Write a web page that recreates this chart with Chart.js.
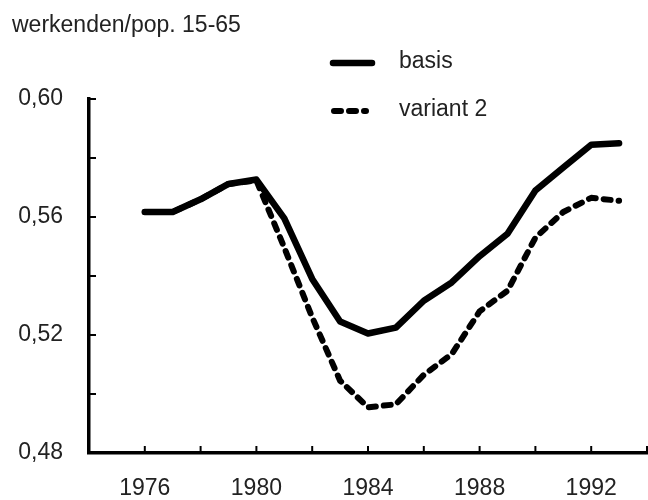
<!DOCTYPE html>
<html>
<head>
<meta charset="utf-8">
<script src="https://cdn.jsdelivr.net/npm/chart.js@4"></script>
<style>
  html, body { margin: 0; padding: 0; background: #fff; }
  #wrap { width: 648px; height: 500px; }
</style>
</head>
<body>
<div id="wrap"><canvas id="grafiek"></canvas></div>
<script>
const jaren = [1976, 1977, 1978, 1979, 1980, 1981, 1982, 1983, 1984,
               1985, 1986, 1987, 1988, 1989, 1990, 1991, 1992, 1993];
const basis = [0.5617, 0.5617, 0.5660, 0.5712, 0.5727, 0.5595, 0.5390, 0.5246, 0.5205,
               0.5225, 0.5316, 0.5378, 0.5467, 0.5543, 0.5690, 0.5768, 0.5845, 0.5850];
const variant2 = [0.5617, 0.5617, 0.5660, 0.5712, 0.5724, 0.5496, 0.5260, 0.5045, 0.4955,
                  0.4965, 0.5065, 0.5135, 0.5280, 0.5350, 0.5530, 0.5617, 0.5665, 0.5655];
const reeksNamen = ['basis', 'variant 2'];
const titel = 'werkenden/pop. 15-65';

const font = "'Liberation Sans', Arial, sans-serif";
const dash = [7, 8];

const punten = (waarden) => jaren.map((j, i) => ({ x: j, y: waarden[i] }));

// tick marks point inward, legend sits inside the plot, title top-left
const extra = {
  id: 'extra',
  afterDraw(chart) {
    const { ctx, chartArea, scales } = chart;
    ctx.save();
    ctx.strokeStyle = '#000';
    ctx.lineWidth = 2;
    scales.y.ticks.forEach(t => {
      const y = scales.y.getPixelForValue(t.value);
      ctx.beginPath();
      ctx.moveTo(chartArea.left, y);
      ctx.lineTo(chartArea.left + 7, y);
      ctx.stroke();
    });
    scales.x.ticks.forEach(t => {
      const x = scales.x.getPixelForValue(t.value);
      ctx.beginPath();
      ctx.moveTo(x, chartArea.bottom);
      ctx.lineTo(x, chartArea.bottom - 7);
      ctx.stroke();
    });

    ctx.fillStyle = '#222';
    ctx.font = '23px ' + font;
    ctx.textBaseline = 'alphabetic';
    ctx.textAlign = 'left';
    ctx.fillText(titel, 12, 32);

    const rijen = [63, 111];
    chart.data.datasets.forEach((ds, i) => {
      ctx.beginPath();
      ctx.lineWidth = ds.borderWidth;
      ctx.lineCap = ds.borderCapStyle;
      ctx.setLineDash(ds.borderDash || []);
      ctx.moveTo(i === 0 ? 333 : 334, rijen[i]);
      ctx.lineTo(i === 0 ? 372 : 366, rijen[i]);
      ctx.stroke();
      ctx.setLineDash([]);
      ctx.textBaseline = 'middle';
      ctx.fillText(ds.label, 399, rijen[i] - 1);
    });
    ctx.restore();
  }
};

new Chart(document.getElementById('grafiek'), {
  type: 'line',
  data: {
    datasets: [
      {
        label: reeksNamen[0],
        data: punten(basis),
        borderColor: '#000',
        borderWidth: 6.5,
        borderCapStyle: 'round',
        borderJoinStyle: 'round',
        pointRadius: 0,
        tension: 0
      },
      {
        label: reeksNamen[1],
        data: punten(variant2),
        borderColor: '#000',
        borderWidth: 6,
        borderDash: dash,
        borderCapStyle: 'round',
        borderJoinStyle: 'round',
        pointRadius: 0,
        tension: 0
      }
    ]
  },
  options: {
    responsive: true,
    maintainAspectRatio: false,
    animation: false,
    layout: { padding: { top: 99, right: 1, left: 0, bottom: 0 } },
    plugins: {
      legend: { display: false },
      title: { display: false },
      tooltip: { enabled: false }
    },
    scales: {
      x: {
        type: 'linear',
        min: 1974,
        max: 1994,
        grid: { display: false },
        border: { color: '#000', width: 3.5 },
        afterFit(s) { s.height = 47; s.paddingLeft = 0; s.paddingRight = 0; },
        ticks: {
          stepSize: 2,
          autoSkip: false,
          maxRotation: 0,
          padding: 14,
          color: '#222',
          font: { family: font, size: 23 },
          callback: v => (v >= 1976 && (v - 1976) % 4 === 0) ? String(v) : ''
        }
      },
      y: {
        min: 0.48,
        max: 0.60,
        grid: { display: false },
        border: { color: '#000', width: 3.5 },
        afterFit(s) { s.width = 89; s.paddingTop = 0; s.paddingBottom = 0; },
        ticks: {
          stepSize: 0.02,
          padding: 18,
          color: '#222',
          font: { family: font, size: 23 },
          callback: v => {
            const r = Math.round(v * 100);
            return r % 4 === 0 ? (r / 100).toFixed(2).replace('.', ',') : '';
          }
        }
      }
    }
  },
  plugins: [extra]
});
</script>
</body>
</html>
